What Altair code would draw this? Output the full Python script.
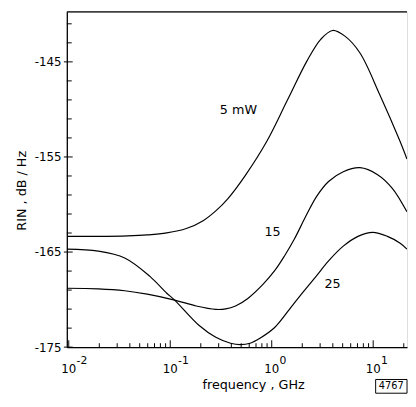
import altair as alt
import pandas as pd

# ---- data (frequency in GHz, RIN in dB/Hz) ----
freq_5 = [0.0096, 0.0195, 0.038, 0.0593, 0.0925, 0.144, 0.211, 0.281, 0.367, 0.548,
          0.895, 1.429, 2.228, 3.04, 3.975, 5.30, 7.41, 11.55, 18.03, 21.5]
rin_5 = [-163.35, -163.35, -163.30, -163.20, -162.99, -162.53, -161.70, -160.67, -159.43, -156.96,
         -153.35, -149.02, -144.90, -142.63, -141.70, -142.32, -144.07, -148.40, -153.14, -155.21]

freq_15 = [0.0096, 0.0195, 0.0356, 0.0593, 0.1105, 0.180, 0.281, 0.352, 0.44, 0.586, 0.819,
           1.069, 1.336, 1.667, 2.178, 2.782, 3.633, 5.07, 7.41, 11.05, 15.43, 21.5]
rin_15 = [-168.81, -168.87, -169.07, -169.43, -170.05, -170.67, -171.03, -170.98, -170.67, -169.85, -168.40,
          -166.96, -165.41, -163.66, -161.19, -159.12, -157.58, -156.55, -156.13, -156.86, -158.30, -160.77]

freq_25 = [0.0096, 0.0195, 0.0356, 0.0634, 0.0925, 0.1105, 0.193, 0.281, 0.393, 0.491, 0.613, 0.765,
           1.069, 1.667, 2.723, 3.633, 5.07, 7.08, 9.89, 13.81, 18.44, 21.5]
rin_25 = [-164.69, -164.90, -165.62, -167.58, -169.33, -170.05, -172.73, -173.97, -174.59, -174.74, -174.59, -174.07,
          -172.94, -170.36, -167.58, -165.93, -164.38, -163.35, -162.94, -163.35, -164.07, -164.69]

curve_labels = ["5 mW", "15", "25"]
label_freq = [0.47, 1.02, 3.97]
label_rin = [-150.05, -162.9, -168.4]

x_decades = [0.01, 0.1, 1, 10]
x_exponents = ["-2", "-1", "0", "1"]
x_minor = [0.02, 0.03, 0.04, 0.05, 0.06, 0.07, 0.08, 0.09,
           0.2, 0.3, 0.4, 0.5, 0.6, 0.7, 0.8, 0.9,
           2, 3, 4, 5, 6, 7, 8, 9, 20]
y_labels = [-175, -165, -155, -145]
y_minor = [-173, -171, -169, -167, -163, -161, -159, -157, -153, -151, -149, -147, -143, -141]

X_DOMAIN = [0.00957, 21.54]
Y_DOMAIN = [-175, -139.74]
W, H = 347, 342
FONT = "DejaVu Sans"

curves = pd.concat([
    pd.DataFrame({"f": freq_5, "rin": rin_5, "p": "5"}),
    pd.DataFrame({"f": freq_15, "rin": rin_15, "p": "15"}),
    pd.DataFrame({"f": freq_25, "rin": rin_25, "p": "25"}),
])

xs = alt.Scale(type="log", domain=X_DOMAIN, nice=False)
ys = alt.Scale(domain=Y_DOMAIN, nice=False, zero=False)

lines = alt.Chart(curves).mark_line(color="black", strokeWidth=1.2, interpolate="catmull-rom", clip=True).encode(
    x=alt.X("f:Q", scale=xs, axis=alt.Axis(
        labels=False, ticks=False, grid=False, domainColor="black", domainWidth=1.3,
        title="frequency , GHz", titleFont=FONT, titleFontSize=13, titleFontWeight="normal",
        titleColor="black", titleBaseline="middle", titleX=190, titleY=38)),
    y=alt.Y("rin:Q", scale=ys, axis=alt.Axis(
        values=y_labels, ticks=False, grid=False, domainColor="black", domainWidth=1.3,
        labelExpr="'-' + abs(datum.value)",
        labelFont=FONT, labelFontSize=12, labelColor="black", labelPadding=6,
        title="RIN , dB / Hz", titleFont=FONT, titleFontSize=13, titleFontWeight="normal",
        titleColor="black", titleX=-46, titleY=182, titleBaseline="middle")),
    detail="p:N",
)

lab_df = pd.DataFrame({"f": label_freq, "rin": label_rin, "t": curve_labels})
labels = alt.Chart(lab_df).mark_text(font=FONT, fontSize=13, color="black", baseline="middle").encode(
    x=alt.X("f:Q", scale=xs), y=alt.Y("rin:Q", scale=ys), text="t:N")

# axis ticks (inward)
xmin_df = pd.DataFrame({"f": x_minor})
xmaj_df = pd.DataFrame({"f": x_decades, "e": x_exponents})
x_minor_ticks = alt.Chart(xmin_df).mark_rule(color="black", strokeWidth=1).encode(
    x=alt.X("f:Q", scale=xs), y=alt.value(H), y2=alt.value(H - 4))
x_major_ticks = alt.Chart(xmaj_df).mark_rule(color="black", strokeWidth=1).encode(
    x=alt.X("f:Q", scale=xs), y=alt.value(H), y2=alt.value(H - 7))
x_base = alt.Chart(xmaj_df).mark_text(font=FONT, fontSize=12, color="black", baseline="middle").encode(
    x=alt.X("f:Q", scale=xs), y=alt.value(H + 22), text=alt.value("10"))
x_exp = alt.Chart(xmaj_df).mark_text(font=FONT, fontSize=11, color="black", baseline="middle",
                                     align="left", dx=8).encode(
    x=alt.X("f:Q", scale=xs), y=alt.value(H + 14), text="e:N")

ymin_df = pd.DataFrame({"v": y_minor})
ymaj_df = pd.DataFrame({"v": y_labels})
y_minor_ticks = alt.Chart(ymin_df).mark_rule(color="black", strokeWidth=1).encode(
    y=alt.Y("v:Q", scale=ys), x=alt.value(0), x2=alt.value(5))
y_major_ticks = alt.Chart(ymaj_df).mark_rule(color="black", strokeWidth=1).encode(
    y=alt.Y("v:Q", scale=ys), x=alt.value(-3), x2=alt.value(6))

top_border = alt.Chart().mark_rule(color="black", strokeWidth=1.3).encode(
    x=alt.value(0), x2=alt.value(W), y=alt.value(0))

box = alt.Chart().mark_rect(filled=False, stroke="black", strokeWidth=1).encode(
    x=alt.value(315), x2=alt.value(W), y=alt.value(375), y2=alt.value(389))
box_text = alt.Chart().mark_text(font=FONT, fontSize=10, color="black", baseline="middle").encode(
    x=alt.value(331), y=alt.value(382), text=alt.value("4767"))

chart = alt.layer(
    lines, labels, x_minor_ticks, x_major_ticks, x_base, x_exp,
    y_minor_ticks, y_major_ticks, top_border, box, box_text
).properties(
    width=W, height=H,
    autosize=alt.AutoSizeParams(type="none"),
    padding={"left": 60, "top": 0, "right": 1, "bottom": 50},
).configure_view(stroke=None).configure(background="white")

chart.save("out.html", embed_options={"renderer": "svg", "actions": False})
